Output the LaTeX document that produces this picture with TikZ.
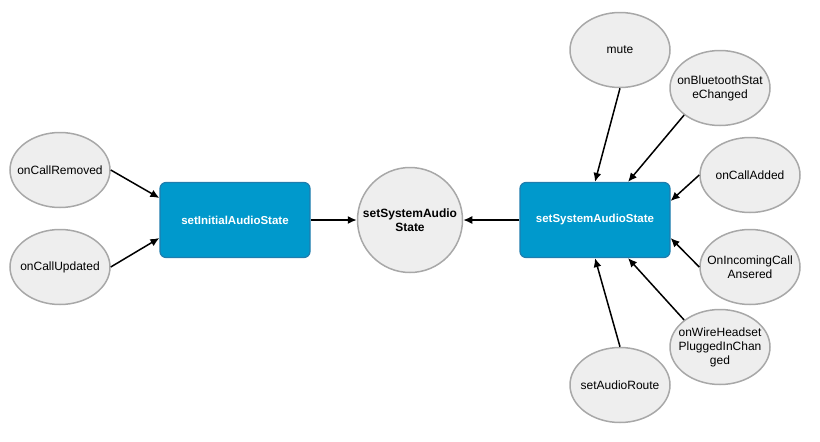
\documentclass[tikz,border=0pt]{standalone}
\usepackage{fontspec}
\setmainfont{Liberation Sans}
\usepackage{tikz}
\usetikzlibrary{shapes,positioning,calc}
\usetikzlibrary{shapes.geometric, arrows}
\usetikzlibrary{arrows.meta}
\definecolor{boxblue}{HTML}{0099CC}
\definecolor{boxedge}{HTML}{1F7DAE}
\definecolor{ellfill}{HTML}{EEEEEE}
\definecolor{elledge}{HTML}{A8A8A8}
\tikzstyle{metodo} = [rectangle, rounded corners=6pt, minimum width=150pt, minimum height=75pt, text centered, draw=boxedge, line width=1.2pt, fill=boxblue, text=white, font=\fontsize{11.5}{13}\selectfont\bfseries]
\tikzstyle{evento} = [ellipse, minimum width=100pt, minimum height=75pt, inner sep=0pt, draw=elledge, line width=1.5pt, fill=ellfill]
\tikzstyle{testo} = [inner sep=0pt, align=center, font=\fontsize{12}{14}\selectfont]
\tikzstyle{stato} = [circle, minimum size=105pt, inner sep=0pt, text centered, align=center, draw=elledge, line width=1.5pt, fill=ellfill, font=\fontsize{12}{14}\selectfont\bfseries]
\tikzstyle{arrow} = [line width=1.5pt,-{Latex[length=9pt,width=8pt]}]
\begin{document}
\begin{tikzpicture}[x=1pt,y=-1pt]
						\useasboundingbox (0,0) rectangle (820,442);
						\node (rem) at (60,170) [evento, label={[testo]center:onCallRemoved}] {};
						\node (upd) at (60,267) [evento, label={[testo]center:onCallUpdated}] {};
						\node (init) at (235,220) [metodo] {setInitialAudioState};
						\node (ssa) at (410,220) [stato] {setSystemAudio\\State};
						\node (sys) at (595,220) [metodo] {setSystemAudioState};
						\node (mute) at (620,50) [evento, label={[testo]center:mute}] {};
						\node (bt) at (720,88) [evento, label={[testo]center:{onBluetoothStat\\eChanged}}] {};
						\node (add) at (750,175) [evento, label={[testo]center:onCallAdded}] {};
						\node (inc) at (750,267) [evento, label={[testo]center:{OnIncomingCall\\Ansered}}] {};
						\node (wire) at (720,347) [evento, label={[testo]center:{onWireHeadset\\PluggedInChan\\ged}}] {};
						\node (route) at (620,385) [evento, label={[testo]center:setAudioRoute}] {};
						\draw[arrow] (rem.east) -- ([yshift=22pt]init.west);
						\draw[arrow] (upd.east) -- ([yshift=-18pt]init.west);
						\draw[arrow] (init.east) -- (ssa.west);
						\draw[arrow] (sys.west) -- (ssa.east);
						\draw[arrow] (mute.south) -- (sys.north);
						\draw[arrow] (bt.south west) -- ([xshift=33pt]sys.north);
						\draw[arrow] (add.west) -- ([yshift=19pt]sys.east);
						\draw[arrow] (inc.west) -- ([yshift=-18pt]sys.east);
						\draw[arrow] (wire.north west) -- ([xshift=33pt]sys.south);
						\draw[arrow] (route.north) -- (sys.south);
					\end{tikzpicture}
\end{document}
